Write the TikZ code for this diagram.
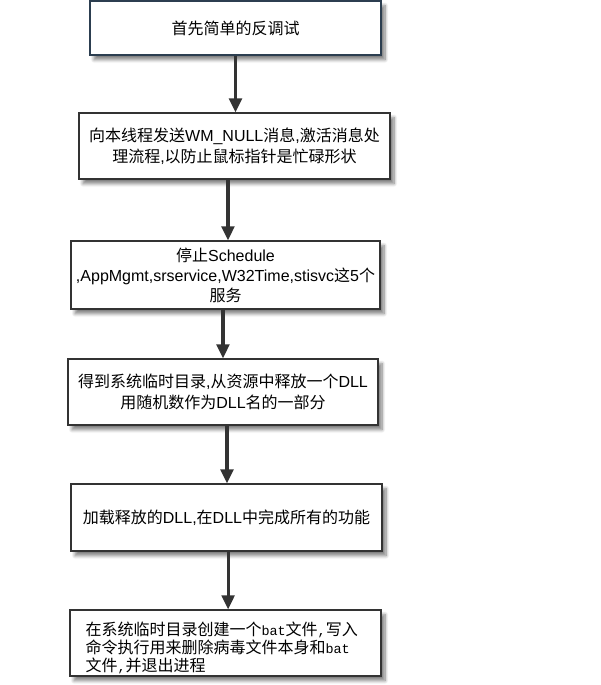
\documentclass[tikz,border=0pt]{standalone}
\usepackage{fontspec}
\setmainfont{Noto Sans CJK SC}
\newfontfamily\lat{Liberation Sans}
\newfontfamily\mono{Liberation Mono}[Scale=0.84]
\usetikzlibrary{shadows.blur,arrows.meta}
\definecolor{boxline}{HTML}{333333}
\definecolor{firstline}{HTML}{2C3E50}
\definecolor{arrowc}{HTML}{333333}
\begin{document}
\begin{tikzpicture}[x=0.75pt,y=-0.75pt,
  box/.style={draw=boxline, line width=0.9pt, fill=white, rectangle, inner sep=0pt,
    align=center, text=black, font=\fontsize{12}{15.5}\selectfont,
    blur shadow={shadow xshift=3pt, shadow yshift=-3.5pt, shadow blur steps=8,
      shadow opacity=50, shadow blur radius=2.5pt}},
  boxtext/.style={inner sep=0pt, text=black, align=left, font=\fontsize{12}{13.5}\selectfont},
  sz/.style 2 args={minimum width=#1*0.75pt, minimum height=#2*0.75pt},
  arr/.style={line width=2.3pt, draw=arrowc, -{Triangle[width=9.5pt,length=10.5pt]}}]
\useasboundingbox (0,0) rectangle (600,685);
\node[box, sz={291}{54}, draw=firstline] (b1) at (235.5,28) {首先简单的反调试};
\node[box, sz={311}{66}] (b2) at (234.5,146)
  {向本线程发送{\lat WM\_NULL}消息{\lat ,}激活消息处\\理流程{\lat ,}以防止鼠标指针是忙碌形状};
\node[box, sz={309}{68}, font=\fontsize{12}{15}\selectfont] (b3) at (225.5,275)
  {停止{\lat Schedule}\\{\lat ,AppMgmt,srservice,W32Time,stisvc}这{\lat 5}个\\服务};
\node[box, sz={310}{66}] (b4) at (223,392)
  {得到系统临时目录{\lat ,}从资源中释放一个{\lat DLL}\\用随机数作为{\lat DLL}名的一部分};
\node[box, sz={311}{67}] (b5) at (226.5,517.5)
  {加载释放的{\lat DLL,}在{\lat DLL}中完成所有的功能};
\node[box, sz={311}{66}] (b6) at (225.5,643) {};
\node[boxtext, text width=280*0.75pt] (b6t) at ([yshift=-3.5pt]b6.center)
  {在系统临时目录创建一个{\mono bat}文件{\mono ,}写入\\命令执行用来删除病毒文件本身和{\mono bat}\\文件{\mono ,}并退出进程};
\draw[arr] (b1.south) -- (b1.south |- b2.north);
\draw[arr] ([xshift=-4.9pt]b2.south) -- ([xshift=-4.9pt]b2.south |- b3.north);
\draw[arr] ([xshift=-1.9pt]b3.south) -- ([xshift=-1.9pt]b3.south |- b4.north);
\draw[arr] ([xshift=3pt]b4.south) -- ([xshift=3pt]b4.south |- b5.north);
\draw[arr] ([xshift=1.2pt]b5.south) -- ([xshift=1.2pt]b5.south |- b6.north);
\end{tikzpicture}
\end{document}
